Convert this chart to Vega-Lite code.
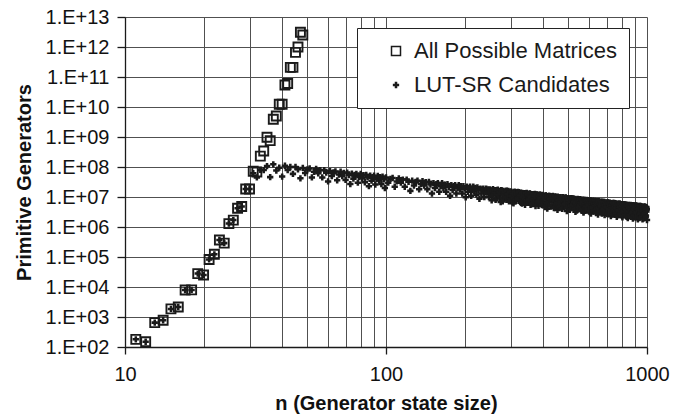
{
"$schema": "https://vega.github.io/schema/vega-lite/v6.json",
"width": 522,
"height": 330,
"autosize": {"type": "none"},
"padding": {"left": 125, "top": 17, "right": 37, "bottom": 69},
"background": "white",
"config": {
  "view": {"stroke": null},
  "axis": {"domainColor": "#1a1a1a", "domainWidth": 1.3, "tickColor": "#1a1a1a", "tickWidth": 1.3, "gridColor": "#505050", "gridWidth": 1, "gridOpacity": 1, "labelFont": "Liberation Sans", "labelFontSize": 20, "labelColor": "#111", "titleFont": "Liberation Sans", "titleFontSize": 20, "titleFontWeight": "bold", "titleColor": "#111", "labelFlush": false}
},
"data": {"values": [
{"n":11,"v":180,"s":"A"},{"n":12,"v":150,"s":"A"},{"n":13,"v":650,"s":"A"},{"n":14,"v":780,"s":"A"},{"n":15,"v":1860,"s":"A"},{"n":16,"v":2150,"s":"A"},{"n":17,"v":7900,"s":"A"},{"n":18,"v":8000,"s":"A"},{"n":19,"v":28000,"s":"A"},{"n":20,"v":25000,"s":"A"},{"n":21,"v":83000,"s":"A"},{"n":22,"v":123000,"s":"A"},{"n":23,"v":370000,"s":"A"},{"n":24,"v":290000,"s":"A"},{"n":25,"v":1.3e6,"s":"A"},{"n":26,"v":1.7e6,"s":"A"},{"n":27,"v":4.2e6,"s":"A"},{"n":28,"v":4.8e6,"s":"A"},{"n":29,"v":1.85e7,"s":"A"},{"n":30,"v":1.85e7,"s":"A"},{"n":31,"v":7.2e7,"s":"A"},{"n":32,"v":6.8e7,"s":"A"},{"n":33,"v":2.3e8,"s":"A"},{"n":34,"v":3.4e8,"s":"A"},{"n":35,"v":9.8e8,"s":"A"},{"n":36,"v":7.6e8,"s":"A"},{"n":37,"v":3.9e9,"s":"A"},{"n":38,"v":5.0e9,"s":"A"},{"n":39,"v":1.23e10,"s":"A"},{"n":40,"v":1.23e10,"s":"A"},{"n":41,"v":5.4e10,"s":"A"},{"n":42,"v":6.1e10,"s":"A"},{"n":43,"v":2.1e11,"s":"A"},{"n":44,"v":2.1e11,"s":"A"},{"n":45,"v":6.6e11,"s":"A"},{"n":46,"v":1.0e12,"s":"A"},{"n":47,"v":3.1e12,"s":"A"},{"n":48,"v":2.5e12,"s":"A"},
{"n":11,"v":180,"s":"L"},{"n":12,"v":150,"s":"L"},{"n":13,"v":650,"s":"L"},{"n":14,"v":780,"s":"L"},{"n":15,"v":1860,"s":"L"},{"n":16,"v":2150,"s":"L"},{"n":17,"v":7900,"s":"L"},{"n":18,"v":8000,"s":"L"},{"n":19,"v":28000,"s":"L"},{"n":20,"v":25000,"s":"L"},{"n":21,"v":83000,"s":"L"},{"n":22,"v":123000,"s":"L"},{"n":23,"v":370000,"s":"L"},{"n":24,"v":290000,"s":"L"},{"n":25,"v":1.3e6,"s":"L"},{"n":26,"v":1.7e6,"s":"L"},{"n":27,"v":4.2e6,"s":"L"},{"n":28,"v":4.8e6,"s":"L"},{"n":29,"v":1.85e7,"s":"L"},{"n":30,"v":1.85e7,"s":"L"},
{"n":31,"v":6.2e7,"s":"L"},{"n":32,"v":4.5e7,"s":"L"},{"n":33,"v":8.0e7,"s":"L"},{"n":34,"v":7.9e7,"s":"L"},{"n":35,"v":1.07e8,"s":"L"},{"n":36,"v":4.6e7,"s":"L"},{"n":37,"v":1.23e8,"s":"L"},{"n":38,"v":7.6e7,"s":"L"},{"n":39,"v":9.5e7,"s":"L"},{"n":40,"v":4.8e7,"s":"L"},
{"n":41,"v":1.1e8,"s":"L"},{"n":42,"v":7.9e7,"s":"L"},{"n":43,"v":1.0e8,"s":"L"},{"n":44,"v":5.9e7,"s":"L"},{"n":45,"v":1.0e8,"s":"L"},{"n":46,"v":8.4e7,"s":"L"},{"n":47,"v":4.2e7,"s":"L"},{"n":48,"v":9.3e7,"s":"L"},{"n":49,"v":6.3e7,"s":"L"},{"n":50,"v":8.3e7,"s":"L"},
{"n":51,"v":8.9e7,"s":"L"},{"n":52,"v":4.5e7,"s":"L"},{"n":53,"v":6.9e7,"s":"L"},{"n":54,"v":8.7e7,"s":"L"},{"n":55,"v":6.2e7,"s":"L"},{"n":56,"v":7.8e7,"s":"L"},{"n":57,"v":4.5e7,"s":"L"},{"n":58,"v":7.9e7,"s":"L"},{"n":59,"v":6.5e7,"s":"L"},{"n":60,"v":3.3e7,"s":"L"},
{"n":61,"v":7.3e7,"s":"L"},{"n":62,"v":5.0e7,"s":"L"},{"n":63,"v":6.6e7,"s":"L"},{"n":64,"v":7.1e7,"s":"L"},{"n":65,"v":3.6e7,"s":"L"},{"n":66,"v":5.6e7,"s":"L"},{"n":67,"v":7.0e7,"s":"L"},{"n":68,"v":5.0e7,"s":"L"},{"n":69,"v":6.3e7,"s":"L"},{"n":70,"v":3.7e7,"s":"L"},
{"n":71,"v":6.5e7,"s":"L"},{"n":72,"v":5.4e7,"s":"L"},{"n":73,"v":2.7e7,"s":"L"},{"n":74,"v":6.0e7,"s":"L"},{"n":75,"v":4.1e7,"s":"L"},{"n":76,"v":5.4e7,"s":"L"},{"n":77,"v":5.9e7,"s":"L"},{"n":78,"v":3.0e7,"s":"L"},{"n":79,"v":4.6e7,"s":"L"},{"n":80,"v":5.9e7,"s":"L"},
{"n":81,"v":4.2e7,"s":"L"},{"n":82,"v":5.3e7,"s":"L"},{"n":83,"v":3.1e7,"s":"L"},{"n":84,"v":5.5e7,"s":"L"},{"n":85,"v":4.5e7,"s":"L"},{"n":86,"v":2.3e7,"s":"L"},{"n":87,"v":5.1e7,"s":"L"},{"n":88,"v":3.5e7,"s":"L"},{"n":89,"v":4.6e7,"s":"L"},{"n":90,"v":5.1e7,"s":"L"},
{"n":91,"v":2.6e7,"s":"L"},{"n":92,"v":4.0e7,"s":"L"},{"n":93,"v":5.0e7,"s":"L"},{"n":94,"v":3.6e7,"s":"L"},{"n":95,"v":4.6e7,"s":"L"},{"n":96,"v":2.7e7,"s":"L"},{"n":97,"v":4.8e7,"s":"L"},{"n":98,"v":3.9e7,"s":"L"},{"n":99,"v":2.0e7,"s":"L"},{"n":100,"v":4.5e7,"s":"L"},
{"n":102,"v":3.0e7,"s":"L"},{"n":104,"v":4.0e7,"s":"L"},{"n":106,"v":4.3e7,"s":"L"},{"n":108,"v":2.2e7,"s":"L"},{"n":110,"v":3.3e7,"s":"L"},{"n":112,"v":4.2e7,"s":"L"},{"n":114,"v":3.0e7,"s":"L"},{"n":116,"v":3.8e7,"s":"L"},{"n":118,"v":2.2e7,"s":"L"},{"n":120,"v":3.8e7,"s":"L"},
{"n":122,"v":3.2e7,"s":"L"},{"n":124,"v":1.6e7,"s":"L"},{"n":126,"v":3.5e7,"s":"L"},{"n":128,"v":2.4e7,"s":"L"},{"n":130,"v":3.2e7,"s":"L"},{"n":132,"v":3.5e7,"s":"L"},{"n":134,"v":1.8e7,"s":"L"},{"n":136,"v":2.7e7,"s":"L"},{"n":138,"v":3.4e7,"s":"L"},{"n":140,"v":2.4e7,"s":"L"},
{"n":142,"v":3.1e7,"s":"L"},{"n":144,"v":1.8e7,"s":"L"},{"n":146,"v":3.2e7,"s":"L"},{"n":148,"v":2.6e7,"s":"L"},{"n":150,"v":1.3e7,"s":"L"},{"n":152,"v":2.9e7,"s":"L"},{"n":154,"v":2.0e7,"s":"L"},{"n":156,"v":2.7e7,"s":"L"},{"n":158,"v":2.9e7,"s":"L"},{"n":160,"v":1.5e7,"s":"L"},
{"n":162,"v":2.3e7,"s":"L"},{"n":164,"v":2.9e7,"s":"L"},{"n":166,"v":2.0e7,"s":"L"},{"n":168,"v":2.6e7,"s":"L"},{"n":170,"v":1.5e7,"s":"L"},{"n":172,"v":2.7e7,"s":"L"},{"n":174,"v":2.2e7,"s":"L"},{"n":176,"v":1.1e7,"s":"L"},{"n":178,"v":2.5e7,"s":"L"},{"n":180,"v":1.7e7,"s":"L"},
{"n":182,"v":2.3e7,"s":"L"},{"n":184,"v":2.5e7,"s":"L"},{"n":186,"v":1.3e7,"s":"L"},{"n":188,"v":2.0e7,"s":"L"},{"n":190,"v":2.5e7,"s":"L"},{"n":192,"v":1.8e7,"s":"L"},{"n":194,"v":2.3e7,"s":"L"},{"n":196,"v":1.3e7,"s":"L"},{"n":198,"v":2.3e7,"s":"L"},{"n":200,"v":1.9e7,"s":"L"},
{"n":202,"v":9.8e6,"s":"L"},{"n":204,"v":2.2e7,"s":"L"},{"n":206,"v":1.5e7,"s":"L"},{"n":208,"v":2.0e7,"s":"L"},{"n":210,"v":2.2e7,"s":"L"},{"n":212,"v":1.1e7,"s":"L"},{"n":214,"v":1.7e7,"s":"L"},{"n":216,"v":2.2e7,"s":"L"},{"n":218,"v":1.6e7,"s":"L"},{"n":220,"v":2.0e7,"s":"L"},
{"n":222,"v":1.2e7,"s":"L"},{"n":224,"v":2.1e7,"s":"L"},{"n":226,"v":1.7e7,"s":"L"},{"n":228,"v":8.7e6,"s":"L"},{"n":230,"v":1.9e7,"s":"L"},{"n":232,"v":1.3e7,"s":"L"},{"n":234,"v":1.8e7,"s":"L"},{"n":236,"v":1.9e7,"s":"L"},{"n":238,"v":9.9e6,"s":"L"},{"n":240,"v":1.5e7,"s":"L"},
{"n":242,"v":1.9e7,"s":"L"},{"n":244,"v":1.4e7,"s":"L"},{"n":246,"v":1.8e7,"s":"L"},{"n":248,"v":1.0e7,"s":"L"},{"n":250,"v":1.8e7,"s":"L"},{"n":252,"v":1.5e7,"s":"L"},{"n":254,"v":7.8e6,"s":"L"},{"n":256,"v":1.7e7,"s":"L"},{"n":258,"v":1.2e7,"s":"L"},{"n":260,"v":1.6e7,"s":"L"},
{"n":262,"v":1.7e7,"s":"L"},{"n":264,"v":8.9e6,"s":"L"},{"n":266,"v":1.4e7,"s":"L"},{"n":268,"v":1.75e7,"s":"L"},{"n":270,"v":1.25e7,"s":"L"},{"n":272,"v":1.6e7,"s":"L"},{"n":274,"v":9.4e6,"s":"L"},{"n":276,"v":1.7e7,"s":"L"},{"n":278,"v":1.4e7,"s":"L"},{"n":280,"v":7.1e6,"s":"L"},
{"n":282,"v":1.6e7,"s":"L"},{"n":284,"v":1.1e7,"s":"L"},{"n":286,"v":1.45e7,"s":"L"},{"n":288,"v":1.6e7,"s":"L"},{"n":290,"v":8.1e6,"s":"L"},{"n":292,"v":1.26e7,"s":"L"},{"n":294,"v":1.6e7,"s":"L"},{"n":296,"v":1.14e7,"s":"L"},{"n":298,"v":1.47e7,"s":"L"},{"n":300,"v":8.6e6,"s":"L"},
{"n":302,"v":1.52e7,"s":"L"},{"n":304,"v":1.27e7,"s":"L"},{"n":306,"v":6.5e6,"s":"L"},{"n":308,"v":1.45e7,"s":"L"},{"n":310,"v":1.0e7,"s":"L"},{"n":312,"v":1.33e7,"s":"L"},{"n":314,"v":1.45e7,"s":"L"},{"n":316,"v":7.4e6,"s":"L"},{"n":318,"v":1.15e7,"s":"L"},{"n":320,"v":1.47e7,"s":"L"},
{"n":322,"v":1.05e7,"s":"L"},{"n":324,"v":1.35e7,"s":"L"},{"n":326,"v":7.9e6,"s":"L"},{"n":328,"v":1.4e7,"s":"L"},{"n":330,"v":1.17e7,"s":"L"},{"n":332,"v":6.0e6,"s":"L"},{"n":334,"v":1.34e7,"s":"L"},{"n":336,"v":9.2e6,"s":"L"},{"n":338,"v":1.22e7,"s":"L"},{"n":340,"v":1.34e7,"s":"L"},
{"n":342,"v":6.9e6,"s":"L"},{"n":344,"v":1.07e7,"s":"L"},{"n":346,"v":1.36e7,"s":"L"},{"n":348,"v":9.7e6,"s":"L"},{"n":350,"v":1.25e7,"s":"L"},{"n":352,"v":7.3e6,"s":"L"},{"n":354,"v":1.3e7,"s":"L"},{"n":356,"v":1.08e7,"s":"L"},{"n":358,"v":5.5e6,"s":"L"},{"n":360,"v":1.24e7,"s":"L"},
{"n":362,"v":8.6e6,"s":"L"},{"n":364,"v":1.14e7,"s":"L"},{"n":366,"v":1.25e7,"s":"L"},{"n":368,"v":6.4e6,"s":"L"},{"n":370,"v":9.9e6,"s":"L"},{"n":372,"v":1.26e7,"s":"L"},{"n":374,"v":9.1e6,"s":"L"},{"n":376,"v":1.16e7,"s":"L"},{"n":378,"v":6.8e6,"s":"L"},{"n":380,"v":1.21e7,"s":"L"},
{"n":382,"v":1.01e7,"s":"L"},{"n":384,"v":5.1e6,"s":"L"},{"n":386,"v":1.16e7,"s":"L"},{"n":388,"v":8.0e6,"s":"L"},{"n":390,"v":1.06e7,"s":"L"},{"n":392,"v":1.16e7,"s":"L"},{"n":394,"v":6.0e6,"s":"L"},{"n":396,"v":9.3e6,"s":"L"},{"n":398,"v":1.18e7,"s":"L"},{"n":400,"v":8.5e6,"s":"L"},
{"n":403,"v":1.08e7,"s":"L"},{"n":406,"v":5.8e6,"s":"L"},{"n":409,"v":1.13e7,"s":"L"},{"n":412,"v":9.1e6,"s":"L"},{"n":415,"v":4.1e6,"s":"L"},{"n":418,"v":1.07e7,"s":"L"},{"n":421,"v":6.9e6,"s":"L"},{"n":424,"v":9.6e6,"s":"L"},{"n":427,"v":1.07e7,"s":"L"},{"n":430,"v":4.9e6,"s":"L"},
{"n":433,"v":8.2e6,"s":"L"},{"n":436,"v":1.08e7,"s":"L"},{"n":439,"v":7.5e6,"s":"L"},{"n":442,"v":9.9e6,"s":"L"},{"n":445,"v":5.3e6,"s":"L"},{"n":448,"v":1.03e7,"s":"L"},{"n":451,"v":8.3e6,"s":"L"},{"n":454,"v":3.7e6,"s":"L"},{"n":457,"v":9.8e6,"s":"L"},{"n":460,"v":6.3e6,"s":"L"},
{"n":463,"v":8.8e6,"s":"L"},{"n":466,"v":9.8e6,"s":"L"},{"n":469,"v":4.5e6,"s":"L"},{"n":472,"v":7.6e6,"s":"L"},{"n":475,"v":9.9e6,"s":"L"},{"n":478,"v":6.9e6,"s":"L"},{"n":481,"v":9.1e6,"s":"L"},{"n":484,"v":4.9e6,"s":"L"},{"n":487,"v":9.5e6,"s":"L"},{"n":490,"v":7.7e6,"s":"L"},
{"n":493,"v":3.4e6,"s":"L"},{"n":496,"v":9.0e6,"s":"L"},{"n":499,"v":5.8e6,"s":"L"},{"n":502,"v":8.1e6,"s":"L"},{"n":505,"v":9.0e6,"s":"L"},{"n":508,"v":4.2e6,"s":"L"},{"n":511,"v":7.0e6,"s":"L"},{"n":514,"v":9.1e6,"s":"L"},{"n":517,"v":6.4e6,"s":"L"},{"n":520,"v":8.4e6,"s":"L"},
{"n":523,"v":4.5e6,"s":"L"},{"n":526,"v":8.8e6,"s":"L"},{"n":529,"v":7.1e6,"s":"L"},{"n":532,"v":3.2e6,"s":"L"},{"n":535,"v":8.3e6,"s":"L"},{"n":538,"v":5.4e6,"s":"L"},{"n":541,"v":7.6e6,"s":"L"},{"n":544,"v":8.4e6,"s":"L"},{"n":547,"v":3.9e6,"s":"L"},{"n":550,"v":6.5e6,"s":"L"},
{"n":553,"v":8.5e6,"s":"L"},{"n":556,"v":5.9e6,"s":"L"},{"n":559,"v":7.8e6,"s":"L"},{"n":562,"v":4.2e6,"s":"L"},{"n":565,"v":8.2e6,"s":"L"},{"n":568,"v":6.6e6,"s":"L"},{"n":571,"v":3.0e6,"s":"L"},{"n":574,"v":7.8e6,"s":"L"},{"n":577,"v":5.1e6,"s":"L"},{"n":580,"v":7.1e6,"s":"L"},
{"n":583,"v":7.8e6,"s":"L"},{"n":586,"v":3.6e6,"s":"L"},{"n":589,"v":6.1e6,"s":"L"},{"n":592,"v":7.9e6,"s":"L"},{"n":595,"v":5.5e6,"s":"L"},{"n":598,"v":7.3e6,"s":"L"},{"n":601,"v":3.9e6,"s":"L"},{"n":604,"v":7.6e6,"s":"L"},{"n":607,"v":6.2e6,"s":"L"},{"n":610,"v":2.8e6,"s":"L"},
{"n":613,"v":7.3e6,"s":"L"},{"n":616,"v":4.7e6,"s":"L"},{"n":619,"v":6.6e6,"s":"L"},{"n":622,"v":7.3e6,"s":"L"},{"n":625,"v":3.4e6,"s":"L"},{"n":628,"v":5.7e6,"s":"L"},{"n":631,"v":7.4e6,"s":"L"},{"n":634,"v":5.2e6,"s":"L"},{"n":637,"v":6.9e6,"s":"L"},{"n":640,"v":3.7e6,"s":"L"},
{"n":643,"v":7.2e6,"s":"L"},{"n":646,"v":5.8e6,"s":"L"},{"n":649,"v":2.6e6,"s":"L"},{"n":652,"v":6.8e6,"s":"L"},{"n":655,"v":4.4e6,"s":"L"},{"n":658,"v":6.2e6,"s":"L"},{"n":661,"v":6.9e6,"s":"L"},{"n":664,"v":3.2e6,"s":"L"},{"n":667,"v":5.4e6,"s":"L"},{"n":670,"v":7.0e6,"s":"L"},
{"n":673,"v":4.9e6,"s":"L"},{"n":676,"v":6.5e6,"s":"L"},{"n":679,"v":3.5e6,"s":"L"},{"n":682,"v":6.8e6,"s":"L"},{"n":685,"v":5.5e6,"s":"L"},{"n":688,"v":2.5e6,"s":"L"},{"n":691,"v":6.5e6,"s":"L"},{"n":694,"v":4.2e6,"s":"L"},{"n":697,"v":5.9e6,"s":"L"},{"n":700,"v":6.5e6,"s":"L"},
{"n":703,"v":3.0e6,"s":"L"},{"n":706,"v":5.1e6,"s":"L"},{"n":709,"v":6.6e6,"s":"L"},{"n":712,"v":4.6e6,"s":"L"},{"n":715,"v":6.1e6,"s":"L"},{"n":718,"v":3.3e6,"s":"L"},{"n":721,"v":6.4e6,"s":"L"},{"n":724,"v":5.2e6,"s":"L"},{"n":727,"v":2.3e6,"s":"L"},{"n":730,"v":6.1e6,"s":"L"},
{"n":733,"v":4.0e6,"s":"L"},{"n":736,"v":5.6e6,"s":"L"},{"n":739,"v":6.2e6,"s":"L"},{"n":742,"v":2.9e6,"s":"L"},{"n":745,"v":4.8e6,"s":"L"},{"n":748,"v":6.3e6,"s":"L"},{"n":751,"v":4.4e6,"s":"L"},{"n":754,"v":5.8e6,"s":"L"},{"n":757,"v":3.1e6,"s":"L"},{"n":760,"v":6.1e6,"s":"L"},
{"n":763,"v":4.9e6,"s":"L"},{"n":766,"v":2.2e6,"s":"L"},{"n":769,"v":5.8e6,"s":"L"},{"n":772,"v":3.8e6,"s":"L"},{"n":775,"v":5.3e6,"s":"L"},{"n":778,"v":5.9e6,"s":"L"},{"n":781,"v":2.7e6,"s":"L"},{"n":784,"v":4.6e6,"s":"L"},{"n":787,"v":6.0e6,"s":"L"},{"n":790,"v":4.2e6,"s":"L"},
{"n":793,"v":5.5e6,"s":"L"},{"n":796,"v":3.0e6,"s":"L"},{"n":799,"v":5.8e6,"s":"L"},{"n":802,"v":4.7e6,"s":"L"},{"n":805,"v":2.1e6,"s":"L"},{"n":808,"v":5.5e6,"s":"L"},{"n":811,"v":3.6e6,"s":"L"},{"n":814,"v":5.0e6,"s":"L"},{"n":817,"v":5.6e6,"s":"L"},{"n":820,"v":2.6e6,"s":"L"},
{"n":823,"v":4.3e6,"s":"L"},{"n":826,"v":5.7e6,"s":"L"},{"n":829,"v":4.0e6,"s":"L"},{"n":832,"v":5.3e6,"s":"L"},{"n":835,"v":2.8e6,"s":"L"},{"n":838,"v":5.5e6,"s":"L"},{"n":841,"v":4.5e6,"s":"L"},{"n":844,"v":2.0e6,"s":"L"},{"n":847,"v":5.3e6,"s":"L"},{"n":850,"v":3.4e6,"s":"L"},
{"n":853,"v":4.8e6,"s":"L"},{"n":856,"v":5.3e6,"s":"L"},{"n":859,"v":2.5e6,"s":"L"},{"n":862,"v":4.1e6,"s":"L"},{"n":865,"v":5.4e6,"s":"L"},{"n":868,"v":3.8e6,"s":"L"},{"n":871,"v":5.0e6,"s":"L"},{"n":874,"v":2.7e6,"s":"L"},{"n":877,"v":5.3e6,"s":"L"},{"n":880,"v":4.3e6,"s":"L"},
{"n":883,"v":1.9e6,"s":"L"},{"n":886,"v":5.0e6,"s":"L"},{"n":889,"v":3.3e6,"s":"L"},{"n":892,"v":4.6e6,"s":"L"},{"n":895,"v":5.1e6,"s":"L"},{"n":898,"v":2.4e6,"s":"L"},{"n":901,"v":4.0e6,"s":"L"},{"n":904,"v":5.2e6,"s":"L"},{"n":907,"v":3.6e6,"s":"L"},{"n":910,"v":4.8e6,"s":"L"},
{"n":913,"v":2.6e6,"s":"L"},{"n":916,"v":5.0e6,"s":"L"},{"n":919,"v":4.1e6,"s":"L"},{"n":922,"v":1.8e6,"s":"L"},{"n":925,"v":4.8e6,"s":"L"},{"n":928,"v":3.1e6,"s":"L"},{"n":931,"v":4.4e6,"s":"L"},{"n":934,"v":4.9e6,"s":"L"},{"n":937,"v":2.3e6,"s":"L"},{"n":940,"v":3.8e6,"s":"L"},
{"n":943,"v":5.0e6,"s":"L"},{"n":946,"v":3.5e6,"s":"L"},{"n":949,"v":4.6e6,"s":"L"},{"n":952,"v":2.5e6,"s":"L"},{"n":955,"v":4.8e6,"s":"L"},{"n":958,"v":3.9e6,"s":"L"},{"n":961,"v":1.8e6,"s":"L"},{"n":964,"v":4.6e6,"s":"L"},{"n":967,"v":3.0e6,"s":"L"},{"n":970,"v":4.2e6,"s":"L"},
{"n":973,"v":4.7e6,"s":"L"},{"n":976,"v":2.2e6,"s":"L"},{"n":979,"v":3.6e6,"s":"L"},{"n":982,"v":4.8e6,"s":"L"},{"n":985,"v":3.3e6,"s":"L"},{"n":988,"v":4.4e6,"s":"L"},{"n":991,"v":2.4e6,"s":"L"},{"n":994,"v":4.6e6,"s":"L"},{"n":997,"v":3.8e6,"s":"L"},{"n":1000,"v":1.7e6,"s":"L"},
{"n":251,"v":1.69e7,"s":"L"},{"n":254,"v":1.11e7,"s":"L"},{"n":257,"v":1.83e7,"s":"L"},{"n":260,"v":1.41e7,"s":"L"},{"n":263,"v":8.0e6,"s":"L"},{"n":266,"v":1.7e7,"s":"L"},{"n":269,"v":1.22e7,"s":"L"},{"n":272,"v":1.47e7,"s":"L"},{"n":275,"v":6.8e6,"s":"L"},{"n":278,"v":1.67e7,"s":"L"},
{"n":281,"v":9.2e6,"s":"L"},{"n":284,"v":1.49e7,"s":"L"},{"n":287,"v":9.8e6,"s":"L"},{"n":290,"v":1.62e7,"s":"L"},{"n":293,"v":1.25e7,"s":"L"},{"n":296,"v":7.1e6,"s":"L"},{"n":299,"v":1.51e7,"s":"L"},{"n":302,"v":1.09e7,"s":"L"},{"n":305,"v":1.31e7,"s":"L"},{"n":308,"v":6.1e6,"s":"L"},
{"n":311,"v":1.5e7,"s":"L"},{"n":314,"v":8.2e6,"s":"L"},{"n":317,"v":1.33e7,"s":"L"},{"n":320,"v":8.8e6,"s":"L"},{"n":323,"v":1.46e7,"s":"L"},{"n":326,"v":1.12e7,"s":"L"},{"n":329,"v":6.4e6,"s":"L"},{"n":332,"v":1.36e7,"s":"L"},{"n":335,"v":9.8e6,"s":"L"},{"n":338,"v":1.18e7,"s":"L"},
{"n":341,"v":5.5e6,"s":"L"},{"n":344,"v":1.35e7,"s":"L"},{"n":347,"v":7.4e6,"s":"L"},{"n":350,"v":1.21e7,"s":"L"},{"n":353,"v":8.0e6,"s":"L"},{"n":356,"v":1.32e7,"s":"L"},{"n":359,"v":1.02e7,"s":"L"},{"n":362,"v":5.8e6,"s":"L"},{"n":365,"v":1.24e7,"s":"L"},{"n":368,"v":8.9e6,"s":"L"},
{"n":371,"v":1.08e7,"s":"L"},{"n":374,"v":5.0e6,"s":"L"},{"n":377,"v":1.23e7,"s":"L"},{"n":380,"v":6.8e6,"s":"L"},{"n":383,"v":1.1e7,"s":"L"},{"n":386,"v":7.3e6,"s":"L"},{"n":389,"v":1.21e7,"s":"L"},{"n":392,"v":9.4e6,"s":"L"},{"n":395,"v":5.4e6,"s":"L"},{"n":398,"v":1.13e7,"s":"L"},
{"n":401,"v":8.2e6,"s":"L"},{"n":404,"v":9.9e6,"s":"L"},{"n":407,"v":4.6e6,"s":"L"},{"n":410,"v":1.13e7,"s":"L"},{"n":413,"v":6.3e6,"s":"L"},{"n":416,"v":1.02e7,"s":"L"},{"n":419,"v":6.7e6,"s":"L"},{"n":422,"v":1.11e7,"s":"L"},{"n":425,"v":8.6e6,"s":"L"},{"n":428,"v":4.9e6,"s":"L"},
{"n":431,"v":1.05e7,"s":"L"},{"n":434,"v":7.6e6,"s":"L"},{"n":437,"v":9.1e6,"s":"L"},{"n":440,"v":4.3e6,"s":"L"},{"n":443,"v":1.05e7,"s":"L"},{"n":446,"v":5.8e6,"s":"L"},{"n":449,"v":9.4e6,"s":"L"},{"n":452,"v":6.2e6,"s":"L"},{"n":455,"v":1.03e7,"s":"L"},{"n":458,"v":8.0e6,"s":"L"},
{"n":461,"v":4.6e6,"s":"L"},{"n":464,"v":9.7e6,"s":"L"},{"n":467,"v":7.0e6,"s":"L"},{"n":470,"v":8.5e6,"s":"L"},{"n":473,"v":4.0e6,"s":"L"},{"n":476,"v":9.8e6,"s":"L"},{"n":479,"v":5.4e6,"s":"L"},{"n":482,"v":8.8e6,"s":"L"},{"n":485,"v":5.8e6,"s":"L"},{"n":488,"v":9.6e6,"s":"L"},
{"n":491,"v":7.5e6,"s":"L"},{"n":494,"v":4.3e6,"s":"L"},{"n":497,"v":9.1e6,"s":"L"},{"n":500,"v":6.6e6,"s":"L"},{"n":503,"v":7.9e6,"s":"L"},{"n":506,"v":3.7e6,"s":"L"},{"n":509,"v":9.1e6,"s":"L"},{"n":512,"v":5.0e6,"s":"L"},{"n":515,"v":8.2e6,"s":"L"},{"n":518,"v":5.4e6,"s":"L"},
{"n":521,"v":9.0e6,"s":"L"},{"n":524,"v":7.0e6,"s":"L"},{"n":527,"v":4.0e6,"s":"L"},{"n":530,"v":8.5e6,"s":"L"},{"n":533,"v":6.2e6,"s":"L"},{"n":536,"v":7.5e6,"s":"L"},{"n":539,"v":3.5e6,"s":"L"},{"n":542,"v":8.6e6,"s":"L"},{"n":545,"v":4.7e6,"s":"L"},{"n":548,"v":7.7e6,"s":"L"},
{"n":551,"v":5.1e6,"s":"L"},{"n":554,"v":8.5e6,"s":"L"},{"n":557,"v":6.6e6,"s":"L"},{"n":560,"v":3.8e6,"s":"L"},{"n":563,"v":8.0e6,"s":"L"},{"n":566,"v":5.8e6,"s":"L"},{"n":569,"v":7.0e6,"s":"L"},{"n":572,"v":3.3e6,"s":"L"},{"n":575,"v":8.1e6,"s":"L"},{"n":578,"v":4.5e6,"s":"L"},
{"n":581,"v":7.3e6,"s":"L"},{"n":584,"v":4.8e6,"s":"L"},{"n":587,"v":8.0e6,"s":"L"},{"n":590,"v":6.2e6,"s":"L"},{"n":593,"v":3.6e6,"s":"L"},{"n":596,"v":7.6e6,"s":"L"},{"n":599,"v":5.5e6,"s":"L"},{"n":602,"v":6.6e6,"s":"L"},{"n":605,"v":3.1e6,"s":"L"},{"n":608,"v":7.7e6,"s":"L"},
{"n":611,"v":4.2e6,"s":"L"},{"n":614,"v":6.9e6,"s":"L"},{"n":617,"v":4.6e6,"s":"L"},{"n":620,"v":7.6e6,"s":"L"},{"n":623,"v":5.9e6,"s":"L"},{"n":626,"v":3.4e6,"s":"L"},{"n":629,"v":7.2e6,"s":"L"},{"n":632,"v":5.2e6,"s":"L"},{"n":635,"v":6.3e6,"s":"L"},{"n":638,"v":2.9e6,"s":"L"},
{"n":641,"v":7.3e6,"s":"L"},{"n":644,"v":4.0e6,"s":"L"},{"n":647,"v":6.5e6,"s":"L"},{"n":650,"v":4.3e6,"s":"L"},{"n":653,"v":7.2e6,"s":"L"},{"n":656,"v":5.6e6,"s":"L"},{"n":659,"v":3.2e6,"s":"L"},{"n":662,"v":6.8e6,"s":"L"},{"n":665,"v":4.9e6,"s":"L"},{"n":668,"v":6.0e6,"s":"L"},
{"n":671,"v":2.8e6,"s":"L"},{"n":674,"v":6.9e6,"s":"L"},{"n":677,"v":3.8e6,"s":"L"},{"n":680,"v":6.2e6,"s":"L"},{"n":683,"v":4.1e6,"s":"L"},{"n":686,"v":6.85e6,"s":"L"},{"n":689,"v":5.3e6,"s":"L"},{"n":692,"v":3.1e6,"s":"L"},{"n":695,"v":6.5e6,"s":"L"},{"n":698,"v":4.7e6,"s":"L"},
{"n":701,"v":5.7e6,"s":"L"},{"n":704,"v":2.7e6,"s":"L"},{"n":707,"v":6.6e6,"s":"L"},{"n":710,"v":3.6e6,"s":"L"},{"n":713,"v":5.9e6,"s":"L"},{"n":716,"v":3.9e6,"s":"L"},{"n":719,"v":6.5e6,"s":"L"},{"n":722,"v":5.1e6,"s":"L"},{"n":725,"v":2.9e6,"s":"L"},{"n":728,"v":6.2e6,"s":"L"},
{"n":731,"v":4.5e6,"s":"L"},{"n":734,"v":5.4e6,"s":"L"},{"n":737,"v":2.6e6,"s":"L"},{"n":740,"v":6.3e6,"s":"L"},{"n":743,"v":3.5e6,"s":"L"},{"n":746,"v":5.7e6,"s":"L"},{"n":749,"v":3.8e6,"s":"L"},{"n":752,"v":6.25e6,"s":"L"},{"n":755,"v":4.9e6,"s":"L"},{"n":758,"v":2.8e6,"s":"L"},
{"n":761,"v":5.9e6,"s":"L"},{"n":764,"v":4.3e6,"s":"L"},{"n":767,"v":5.2e6,"s":"L"},{"n":770,"v":2.4e6,"s":"L"},{"n":773,"v":6.0e6,"s":"L"},{"n":776,"v":3.3e6,"s":"L"},{"n":779,"v":5.4e6,"s":"L"},{"n":782,"v":3.6e6,"s":"L"},{"n":785,"v":6.0e6,"s":"L"},{"n":788,"v":4.6e6,"s":"L"},
{"n":791,"v":2.7e6,"s":"L"},{"n":794,"v":5.7e6,"s":"L"},{"n":797,"v":4.1e6,"s":"L"},{"n":800,"v":5.0e6,"s":"L"},{"n":803,"v":2.3e6,"s":"L"},{"n":806,"v":5.8e6,"s":"L"},{"n":809,"v":3.2e6,"s":"L"},{"n":812,"v":5.2e6,"s":"L"},{"n":815,"v":3.5e6,"s":"L"},{"n":818,"v":5.75e6,"s":"L"},
{"n":821,"v":4.5e6,"s":"L"},{"n":824,"v":2.6e6,"s":"L"},{"n":827,"v":5.5e6,"s":"L"},{"n":830,"v":4.0e6,"s":"L"},{"n":833,"v":4.8e6,"s":"L"},{"n":836,"v":2.2e6,"s":"L"},{"n":839,"v":5.5e6,"s":"L"},{"n":842,"v":3.1e6,"s":"L"},{"n":845,"v":5.0e6,"s":"L"},{"n":848,"v":3.3e6,"s":"L"},
{"n":851,"v":5.5e6,"s":"L"},{"n":854,"v":4.3e6,"s":"L"},{"n":857,"v":2.5e6,"s":"L"},{"n":860,"v":5.2e6,"s":"L"},{"n":863,"v":3.8e6,"s":"L"},{"n":866,"v":4.6e6,"s":"L"},{"n":869,"v":2.2e6,"s":"L"},{"n":872,"v":5.3e6,"s":"L"},{"n":875,"v":3.0e6,"s":"L"},{"n":878,"v":4.8e6,"s":"L"},
{"n":881,"v":3.2e6,"s":"L"},{"n":884,"v":5.3e6,"s":"L"},{"n":887,"v":4.1e6,"s":"L"},{"n":890,"v":2.4e6,"s":"L"},{"n":893,"v":5.0e6,"s":"L"},{"n":896,"v":3.7e6,"s":"L"},{"n":899,"v":4.4e6,"s":"L"},{"n":902,"v":2.1e6,"s":"L"},{"n":905,"v":5.1e6,"s":"L"},{"n":908,"v":2.8e6,"s":"L"},
{"n":911,"v":4.6e6,"s":"L"},{"n":914,"v":3.1e6,"s":"L"},{"n":917,"v":5.1e6,"s":"L"},{"n":920,"v":4.0e6,"s":"L"},{"n":923,"v":2.3e6,"s":"L"},{"n":926,"v":4.9e6,"s":"L"},{"n":929,"v":3.5e6,"s":"L"},{"n":932,"v":4.3e6,"s":"L"},{"n":935,"v":2.0e6,"s":"L"},{"n":938,"v":5.0e6,"s":"L"},
{"n":941,"v":2.7e6,"s":"L"},{"n":944,"v":4.5e6,"s":"L"},{"n":947,"v":3.0e6,"s":"L"},{"n":950,"v":4.95e6,"s":"L"},{"n":953,"v":3.8e6,"s":"L"},{"n":956,"v":2.2e6,"s":"L"},{"n":959,"v":4.7e6,"s":"L"},{"n":962,"v":3.4e6,"s":"L"},{"n":965,"v":4.1e6,"s":"L"},{"n":968,"v":1.9e6,"s":"L"},
{"n":971,"v":4.8e6,"s":"L"},{"n":974,"v":2.7e6,"s":"L"},{"n":977,"v":4.3e6,"s":"L"},{"n":980,"v":2.9e6,"s":"L"},{"n":983,"v":4.8e6,"s":"L"},{"n":986,"v":3.7e6,"s":"L"},{"n":989,"v":2.1e6,"s":"L"},{"n":992,"v":4.5e6,"s":"L"},{"n":995,"v":3.3e6,"s":"L"},{"n":998,"v":4.0e6,"s":"L"}
]},
"mark": {"type": "point", "strokeWidth": 1.9, "opacity": 1},
"encoding": {
  "x": {"field": "n", "type": "quantitative",
        "scale": {"type": "log", "domain": [10, 1000], "nice": false},
        "axis": {"values": [10,20,30,40,50,60,70,80,90,100,200,300,400,500,600,700,800,900,1000],
                 "labelExpr": "(datum.value === 10 || datum.value === 100 || datum.value === 1000) ? '' + datum.value : ''",
                 "tickOpacity": {"condition": {"test": "datum.value === 10 || datum.value === 100 || datum.value === 1000", "value": 1}, "value": 0},
                 "tickSize": 7, "labelPadding": 10, "labelOverlap": false, "grid": true,
                 "title": "n (Generator state size)", "titlePadding": 9}},
  "y": {"field": "v", "type": "quantitative",
        "scale": {"type": "log", "domain": [100, 1e13], "nice": false},
        "axis": {"values": [1e2,1e3,1e4,1e5,1e6,1e7,1e8,1e9,1e10,1e11,1e12,1e13],
                 "labelExpr": "'1.E+' + (datum.value < 1e10 ? '0' : '') + round(log(datum.value) / LN10)",
                 "tickSize": 8, "labelPadding": 8, "labelOverlap": false, "grid": true,
                 "title": "Primitive Generators", "titlePadding": 11}},
  "shape": {"field": "s", "type": "nominal", "scale": {"domain": ["A", "L"], "range": ["square", "cross"]},
            "legend": {"title": null, "orient": "none", "legendX": 232, "legendY": 11, "strokeColor": "#222", "fillColor": "white", "padding": 12, "rowPadding": 12, "symbolOffset": 16, "labelOffset": 7, "labelFont": "Liberation Sans", "labelFontSize": 22, "labelColor": "#1a1a1a", "symbolStrokeWidth": 1.5, "labelLimit": 400, "labelExpr": "datum.value === 'A' ? 'All Possible Matrices' : 'LUT-SR Candidates'"}},
  "fill": {"field": "s", "type": "nominal", "scale": {"domain": ["A", "L"], "range": ["transparent", "#1a1a1a"]},
            "legend": {"title": null, "orient": "none", "legendX": 232, "legendY": 11, "strokeColor": "#222", "fillColor": "white", "padding": 12, "rowPadding": 12, "symbolOffset": 16, "labelOffset": 7, "labelFont": "Liberation Sans", "labelFontSize": 22, "labelColor": "#1a1a1a", "symbolStrokeWidth": 1.5, "labelLimit": 400, "labelExpr": "datum.value === 'A' ? 'All Possible Matrices' : 'LUT-SR Candidates'"}},
  "stroke": {"field": "s", "type": "nominal", "scale": {"domain": ["A", "L"], "range": ["#1a1a1a", "transparent"]},
            "legend": {"title": null, "orient": "none", "legendX": 232, "legendY": 11, "strokeColor": "#222", "fillColor": "white", "padding": 12, "rowPadding": 12, "symbolOffset": 16, "labelOffset": 7, "labelFont": "Liberation Sans", "labelFontSize": 22, "labelColor": "#1a1a1a", "symbolStrokeWidth": 1.5, "labelLimit": 400, "labelExpr": "datum.value === 'A' ? 'All Possible Matrices' : 'LUT-SR Candidates'"}},
  "size": {"field": "s", "type": "nominal", "scale": {"domain": ["A", "L"], "range": [81, 40]},
            "legend": {"title": null, "orient": "none", "legendX": 232, "legendY": 11, "strokeColor": "#222", "fillColor": "white", "padding": 12, "rowPadding": 12, "symbolOffset": 16, "labelOffset": 7, "labelFont": "Liberation Sans", "labelFontSize": 22, "labelColor": "#1a1a1a", "symbolStrokeWidth": 1.5, "labelLimit": 400, "labelExpr": "datum.value === 'A' ? 'All Possible Matrices' : 'LUT-SR Candidates'"}}
}
}
